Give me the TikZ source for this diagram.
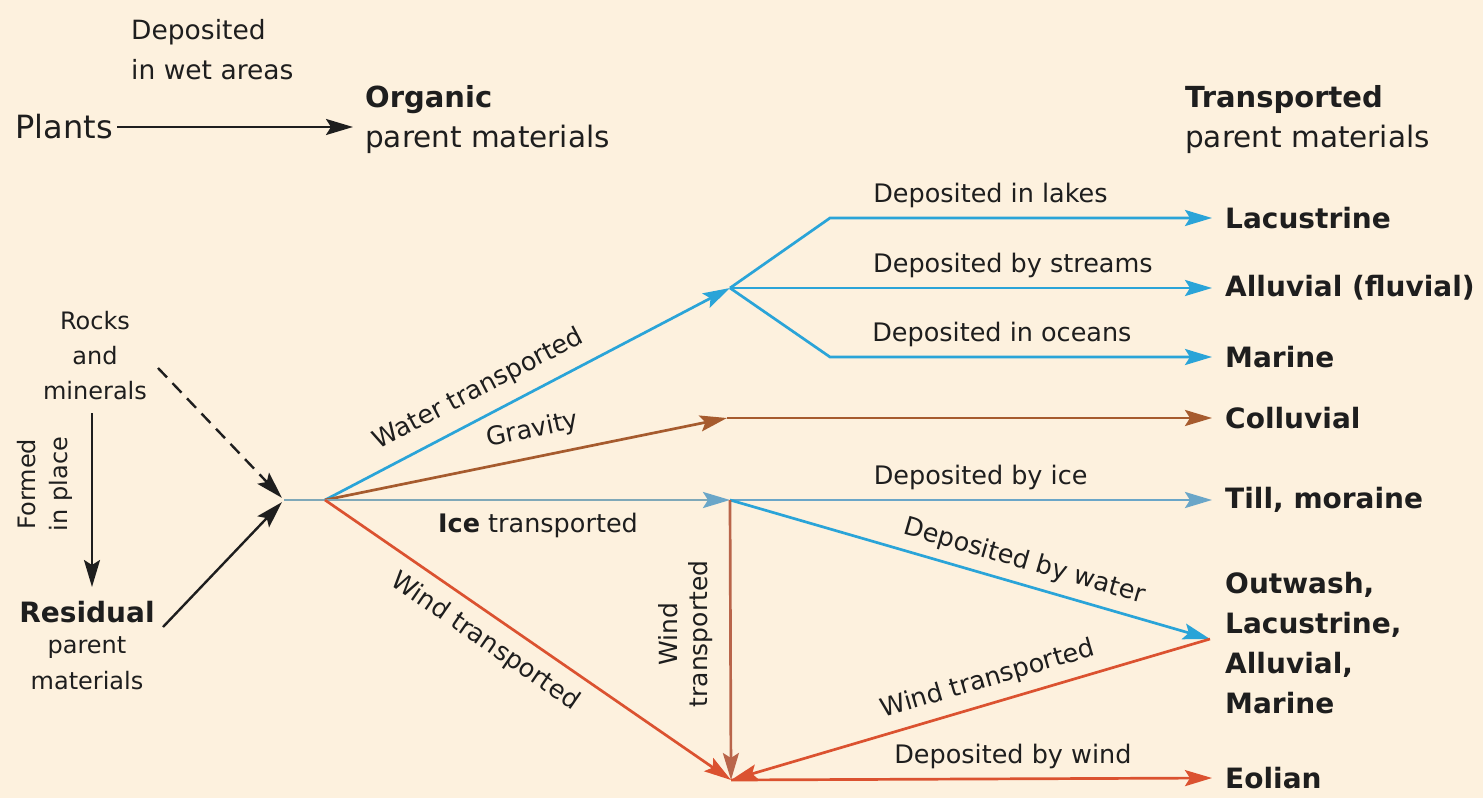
\documentclass[tikz,border=0pt]{standalone}
\usepackage{fontspec}
\setmainfont{DejaVu Sans}
\usetikzlibrary{arrows.meta}
\definecolor{bg}{HTML}{FDF1DE}
\definecolor{water}{HTML}{2AA4D8}
\definecolor{ice}{HTML}{6AA6C8}
\definecolor{iceline}{HTML}{7FA8B8}
\definecolor{grav}{HTML}{A65B2E}
\definecolor{wind}{HTML}{DB5230}
\definecolor{windv}{HTML}{B9654A}
\definecolor{ink}{HTML}{1E1E1E}
\begin{document}
\begin{tikzpicture}[x=1pt,y=-1pt,
  lbl/.style={font=\fontsize{25.5}{30}\selectfont, text=ink, inner sep=0pt},
  head/.style={font=\fontsize{29.5}{40}\selectfont, text=ink, inner sep=0pt, align=left},
  big/.style={font=\fontsize{28}{40}\selectfont\bfseries, text=ink},
  rt/.style={big, anchor=west, inner xsep=13pt, inner ysep=2pt, align=left},
  small/.style={font=\fontsize{24}{35}\selectfont, text=ink, inner sep=0pt, align=center},
  tip/.style={-{Stealth[length=27pt,width=16pt,inset=5pt]}},
  ln/.style={line width=2.7pt},
  blk/.style={line width=2.4pt, draw=ink},
]
\fill[bg] (0,0) rectangle (1483,798);
\useasboundingbox (0,0) rectangle (1483,798);

% ---------- junction points ----------
\coordinate (j0) at (284,500);
\coordinate (j1) at (325,500);
\coordinate (jw) at (730,288);
\coordinate (jg) at (727,418);
\coordinate (ji) at (730,500);
\coordinate (je) at (731,780);
\coordinate (jo) at (1210,639);
\coordinate (bl) at (830,218);
\coordinate (bm) at (830,357);
\coordinate (ds) at (158,368);
\coordinate (rs) at (163,627);
\coordinate (fv1) at (92,413);
\coordinate (fv2) at (92,587);

% ---------- top left ----------
\node[lbl, font=\fontsize{32}{32}\selectfont, anchor=east, inner xsep=4pt] (plants) at (117,127) {Plants};
\node[head, font=\fontsize{26.5}{40}\selectfont, anchor=west] (wet) at (131,50) {Deposited\\in wet areas};
\node[head, anchor=west, inner xsep=12pt] (organic) at (353,120) {{\fontsize{29}{40}\selectfont\bfseries Organic}\\parent materials};
\node[head, anchor=west] (transp) at (1185,120) {{\fontsize{29}{40}\selectfont\bfseries Transported}\\parent materials};
\draw[blk, tip] (plants.east) -- (plants.east -| organic.west);

% ---------- left ----------
\node[small] (rocks) at (95,356) {Rocks\\and\\minerals};
\node[small, rotate=90, font=\fontsize{24}{32}\selectfont] (formed) at (45,484) {Formed\\in place};
\node[big, inner sep=0pt] (residual) at (87,612) {Residual};
\node[small, font=\fontsize{24}{36}\selectfont, anchor=north] (rpm) at (87,636) {parent\\materials};

\draw[blk, tip] (fv1) -- (fv2);
\draw[blk, dashed, dash pattern=on 13pt off 8pt, tip, shorten >=3pt] (ds) -- (j0);
\draw[blk, tip, shorten >=3pt] (rs) -- (j0);
\draw[line width=2pt, iceline] (j0) -- (j1);

% ---------- right targets ----------
\node[rt] (lac) at (1212,218) {Lacustrine};
\node[rt] (alu) at (1212,288) {Alluvial (fluvial)};
\node[rt] (mar) at (1212,357) {Marine};
\node[rt] (col) at (1212,418) {Colluvial};
\node[rt] (till) at (1212,500) {Till, moraine};
\node[rt, anchor=west] (out) at (1212,643) {Outwash,\\Lacustrine,\\Alluvial,\\Marine};
\node[rt] (eol) at (1212,778) {Eolian};

% ---------- water ----------
\draw[ln, water, tip] (j1) -- node[lbl, sloped, above=13pt, pos=0.41] {Water transported} (jw);
\draw[ln, water, tip] (jw) -- (bl) -- node[lbl, above=9pt, pos=0.42] {Deposited in lakes} (lac.west);
\draw[ln, water, tip] (jw) -- node[lbl, above=9pt, pos=0.587] {Deposited by streams} (alu.west);
\draw[ln, water, tip] (jw) -- (bm) -- node[lbl, above=9pt, pos=0.45] {Deposited in oceans} (mar.west);

% ---------- gravity ----------
\draw[ln, grav, tip] (j1) -- node[lbl, sloped, above=13pt, pos=0.53] {Gravity} (jg);
\draw[ln, grav, tip] (jg) -- (col.west);

% ---------- ice ----------
\draw[ln, iceline, -{Stealth[length=27pt,width=16pt,inset=5pt,fill=ice,color=ice]}] (j1) -- node[lbl, below=12pt, pos=0.526] {{\bfseries Ice} transported} (ji);
\draw[ln, ice, tip] (ji) -- node[lbl, above=9pt, pos=0.52] {Deposited by ice} (till.west);
\draw[ln, water, tip] (ji) -- node[lbl, sloped, above=9pt, pos=0.6] {Deposited by water} (jo);

% ---------- wind ----------
\draw[ln, wind, tip] (j1) -- node[lbl, sloped, below=12pt, pos=0.43] {Wind transported} (je);
\draw[ln, windv, tip] (ji) -- (je);
\node[lbl, rotate=90, align=center, font=\fontsize{25}{30}\selectfont] (wv) at (686,634) {Wind\\transported};
\draw[ln, wind, tip] (jo) -- node[lbl, sloped, above=10pt, pos=0.45] {Wind transported} (je);
\draw[ln, wind, tip] (je) -- node[lbl, above=9pt, pos=0.586] {Deposited by wind} (eol.west);
\end{tikzpicture}
\end{document}
